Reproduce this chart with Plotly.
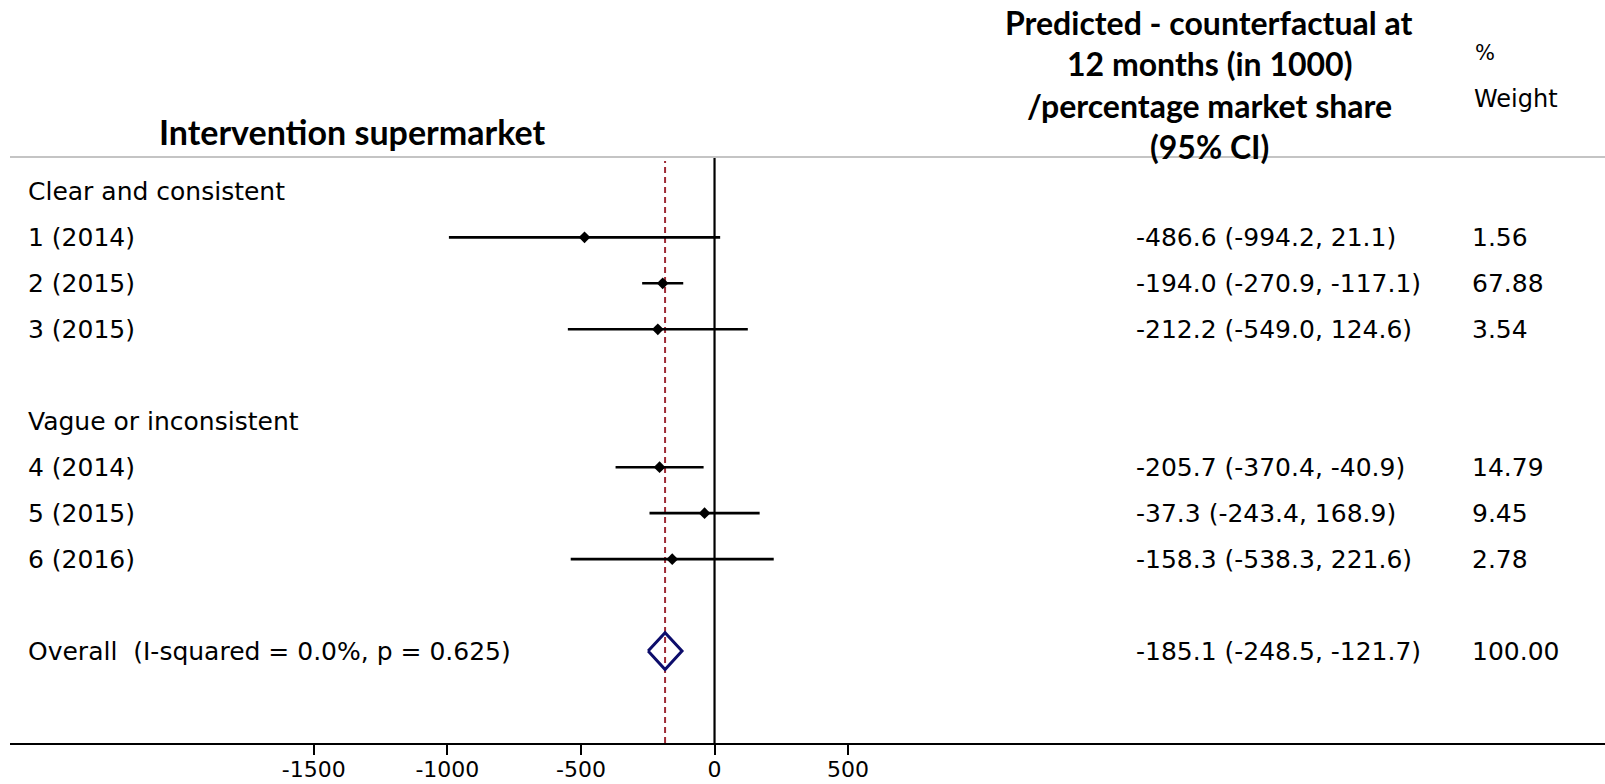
import plotly.graph_objects as go

# ---------------- data ----------------
study_labels = ["1 (2014)", "2 (2015)", "3 (2015)", "4 (2014)", "5 (2015)", "6 (2016)"]
study_rows = [1, 2, 3, 6, 7, 8]
estimates = [-486.6, -194.0, -212.2, -205.7, -37.3, -158.3]
lower_ci = [-994.2, -270.9, -549.0, -370.4, -243.4, -538.3]
upper_ci = [21.1, -117.1, 124.6, -40.9, 168.9, 221.6]
weights = [1.56, 67.88, 3.54, 14.79, 9.45, 2.78]

group_labels = ["Clear and consistent", "Vague or inconsistent"]
group_rows = [0, 5]

overall_label = "Overall\u00a0 (I-squared = 0.0%, p = 0.625)"
overall_row = 10
overall_est = -185.1
overall_lcl = -248.5
overall_ucl = -121.7
overall_weight = 100.00

x_ticks = [-1500, -1000, -500, 0, 500]
header_lines = ["Predicted - counterfactual at", "12 months (in 1000)",
                "/percentage market share", "(95% CI)"]
left_title = "Intervention supermarket"

# ---------------- geometry ----------------
W, H = 1605, 784
ML, MR, MT, MB = 10, 0, 157, 41
PW, PH = W - ML - MR, H - MT - MB


def px_to_paper_x(px):
    return (px - ML) / PW


def py_to_paper_y(py):
    return (H - MB - py) / PH


FONT = "DejaVu Sans"
FS = 25

fig = go.Figure()

# CI lines
cx, cy = [], []
for l, u, r in zip(lower_ci, upper_ci, study_rows):
    cx += [l, u, None]
    cy += [r, r, None]
fig.add_trace(go.Scatter(x=cx, y=cy, mode="lines",
                         line=dict(color="black", width=2.6),
                         hoverinfo="skip", showlegend=False))
# point estimates
fig.add_trace(go.Scatter(x=estimates, y=study_rows, mode="markers",
                         marker=dict(symbol="diamond", size=9, color="black"),
                         showlegend=False))
# overall diamond
half = 0.4
fig.add_trace(go.Scatter(
    x=[overall_lcl, overall_est, overall_ucl, overall_est, overall_lcl],
    y=[overall_row, overall_row - half, overall_row, overall_row + half, overall_row],
    mode="lines", line=dict(color="#0d0d6b", width=3), showlegend=False))

shapes = [
    dict(type="line", xref="x", yref="paper", x0=0, x1=0, y0=0, y1=1,
         line=dict(color="black", width=2.2), layer="below"),
    dict(type="line", xref="x", yref="paper", x0=overall_est, x1=overall_est,
         y0=0, y1=py_to_paper_y(161),
         line=dict(color="#9e2a35", width=2, dash="6px,4px"), layer="below"),
    dict(type="line", xref="paper", yref="paper", x0=0, x1=1, y0=1, y1=1,
         line=dict(color="#c4c4c4", width=2)),
]

annotations = []


def add_text(text, x, y, yref="y", xanchor="left", size=FS, family=FONT, bold=False):
    annotations.append(dict(
        text=f"<b>{text}</b>" if bold else text,
        xref="paper", yref=yref, x=x, y=y,
        xanchor=xanchor, yanchor="middle", showarrow=False,
        font=dict(family=family, size=size, color="black")))


label_x = px_to_paper_x(26)
stat_x = px_to_paper_x(1134)
weight_x = px_to_paper_x(1470)

for g, r in zip(group_labels, group_rows):
    add_text(g, label_x, r)
for lab, r, e, l, u, w in zip(study_labels, study_rows, estimates, lower_ci, upper_ci, weights):
    add_text(lab, label_x, r)
    add_text(f"{e:.1f} ({l:.1f}, {u:.1f})", stat_x, r)
    add_text(f"{w:.2f}", weight_x, r)
add_text(overall_label, label_x, overall_row)
add_text(f"{overall_est:.1f} ({overall_lcl:.1f}, {overall_ucl:.1f})", stat_x, overall_row)
add_text(f"{overall_weight:.2f}", weight_x, overall_row)

# headers
add_text(left_title, px_to_paper_x(352), py_to_paper_y(131), yref="paper",
         xanchor="center", size=34, family="Lato", bold=True)
for line, py in zip(header_lines, [23, 64, 105, 146]):
    add_text(line, px_to_paper_x(1209), py_to_paper_y(py), yref="paper",
             xanchor="center", size=32, family="Lato", bold=True)
add_text("%", px_to_paper_x(1473), py_to_paper_y(53), yref="paper", size=21)
add_text("Weight", px_to_paper_x(1472), py_to_paper_y(99), yref="paper", size=24)

fig.update_layout(
    width=W, height=H,
    margin=dict(l=ML, r=MR, t=MT, b=MB, autoexpand=False),
    paper_bgcolor="white", plot_bgcolor="white",
    shapes=shapes, annotations=annotations,
    showlegend=False,
    xaxis=dict(range=[-2637, 3333], tickvals=x_ticks,
               ticktext=[str(t) for t in x_ticks],
               ticks="outside", ticklen=10, tickwidth=2, tickcolor="black",
               showline=True, linecolor="black", linewidth=2,
               showgrid=False, zeroline=False, automargin=False,
               ticklabelstandoff=-4,
               tickfont=dict(family=FONT, size=22, color="black")),
    yaxis=dict(range=[12, -0.748], visible=False, showgrid=False, zeroline=False,
               automargin=False),
)

fig.write_html("out.html",
               config={"displayModeBar": False},
               post_script="document.body.style.margin='0';document.body.style.overflow='hidden';")
